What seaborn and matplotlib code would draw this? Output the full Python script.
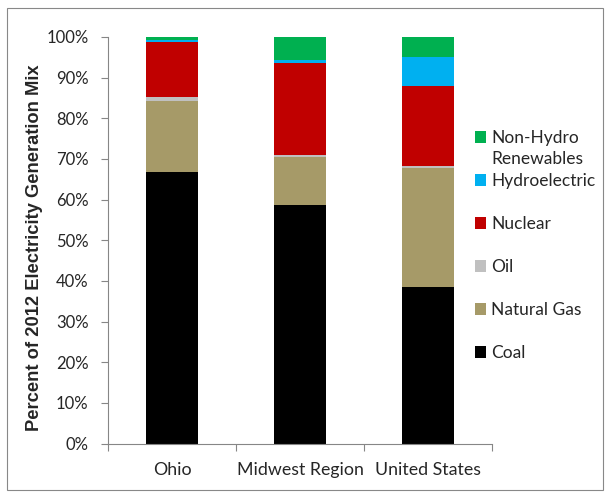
import numpy as np
import pandas as pd
import matplotlib
matplotlib.use('Agg')
import matplotlib.pyplot as plt
from matplotlib.patches import Patch, Rectangle
from matplotlib.ticker import FixedLocator, PercentFormatter
import seaborn as sns

# data (percent of 2012 generation mix)
regions = ['Ohio', 'Midwest Region', 'United States']
sources = ['Coal', 'Natural Gas', 'Oil', 'Nuclear', 'Hydroelectric', 'Non-Hydro Renewables']
coal = [66.9, 58.7, 38.4]
natural_gas = [17.4, 11.9, 29.4]
oil = [0.9, 0.3, 0.4]
nuclear = [13.6, 22.8, 19.8]
hydro = [0.4, 0.7, 7.2]
renewables = [0.8, 5.6, 4.8]
colors = ['#000000', '#A69A68', '#C0C0C0', '#C00000', '#00B0F0', '#00B050']
legend_labels = ['Coal', 'Natural Gas', 'Oil', 'Nuclear', 'Hydroelectric', 'Non-Hydro']

sns.set_style('white')
plt.rcParams['font.family'] = ['Lato', 'DejaVu Sans']

df = pd.DataFrame({'region': regions, 'Coal': coal, 'Natural Gas': natural_gas,
                   'Oil': oil, 'Nuclear': nuclear, 'Hydroelectric': hydro,
                   'Non-Hydro Renewables': renewables})

fig = plt.figure(figsize=(6.09, 4.93), dpi=100)
ax = fig.add_axes([108 / 609, 1 - 443.5 / 493, 384 / 609, 406.5 / 493])

bottom = np.zeros(len(regions))
for src, col in zip(sources, colors):
    sns.barplot(data=df, x='region', y=src, color=col, width=0.4, bottom=bottom,
                ax=ax, saturation=1, edgecolor='none', linewidth=0)
    bottom = bottom + df[src].values

ax.set_xlim(-0.5, 2.5)
ax.set_ylim(0, 100)
ax.set_yticks(np.arange(0, 101, 10))
ax.yaxis.set_major_formatter(PercentFormatter(decimals=0))
ax.set_xlabel('')
ax.set_ylabel('Percent of 2012 Electricity Generation Mix', fontsize=13.2, fontweight='bold',
              family=['Liberation Sans', 'DejaVu Sans'])
ax.yaxis.set_label_coords(-0.17, 0.482)
ax.tick_params(axis='y', labelsize=12, length=5, color='#868686', width=0.8, left=True, pad=9)
ax.tick_params(axis='x', which='major', labelsize=12.8, length=0, pad=13)
ax.xaxis.set_minor_locator(FixedLocator([-0.5, 0.5, 1.5, 2.5]))
ax.tick_params(axis='x', which='minor', length=5, color='#868686', width=0.8, bottom=True)
for s in ['top', 'right']:
    ax.spines[s].set_visible(False)
for s in ['left', 'bottom']:
    ax.spines[s].set_color('#868686')
    ax.spines[s].set_linewidth(0.8)

handles = [Patch(facecolor=c, edgecolor='none') for c in colors]
leg = ax.legend(handles[::-1], legend_labels[::-1], loc='upper left',
                bbox_to_anchor=(468 / 609, 1 - 123 / 493), bbox_transform=fig.transFigure,
                frameon=False, fontsize=12.5, handlelength=0.65, handleheight=0.65,
                handletextpad=0.3, labelspacing=1.56, borderaxespad=0)
# second line of the first legend entry, hanging under it like the original
ax.annotate('Renewables', xy=(0, 0), xycoords=leg.get_texts()[0], xytext=(0, -3.7),
            textcoords='offset points', ha='left', va='top', fontsize=12.5, zorder=10)

fig.patches.append(Rectangle((7 / 609, 3 / 493), 596 / 609, 482 / 493, transform=fig.transFigure,
                             fill=False, edgecolor='#888888', linewidth=0.8))

fig.savefig('out.png', dpi=100)
